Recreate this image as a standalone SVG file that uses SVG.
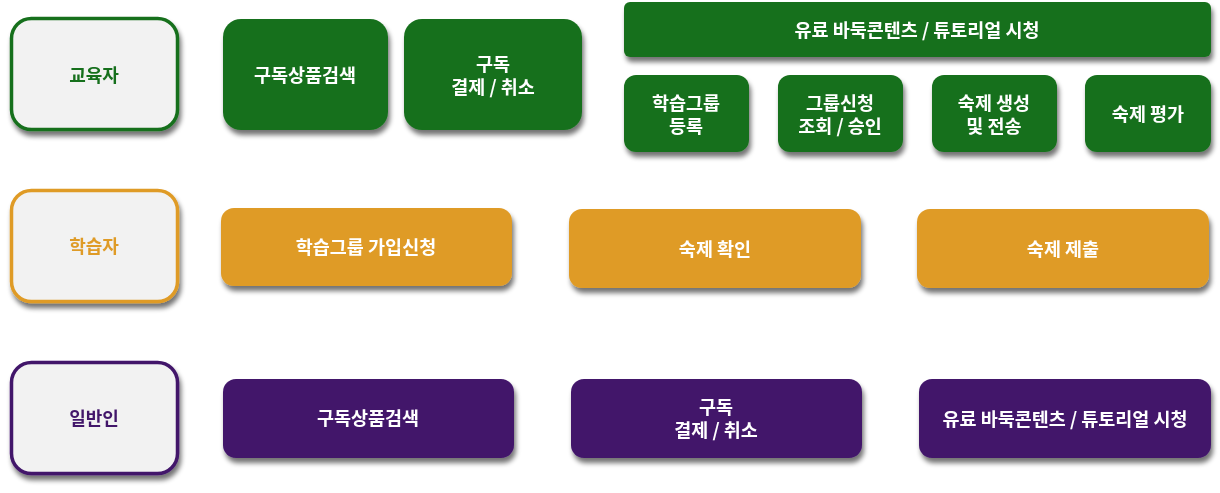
<svg xmlns="http://www.w3.org/2000/svg" width="1220" height="493" viewBox="0 0 1220 493">
<defs>
<filter id="sh" x="-10%" y="-20%" width="125%" height="150%">
<feGaussianBlur in="SourceAlpha" stdDeviation="2.5"/>
<feOffset dx="2" dy="5" result="b"/>
<feComponentTransfer><feFuncA type="linear" slope="0.55"/></feComponentTransfer>
<feMerge><feMergeNode/><feMergeNode in="SourceGraphic"/></feMerge>
</filter>
</defs>
<style>
text{font-family:"Noto Sans CJK KR","Noto Sans",sans-serif;font-weight:bold;text-anchor:middle;dominant-baseline:central}
.w{fill:#ffffff;font-size:18.5px}
.r{font-size:18px}
.role{fill:#f2f2f2;stroke-width:3.5}
.g{fill:#18701f}
.o{fill:#df9b27}
.p{fill:#42166b}
</style>
<g id="role-educator" filter="url(#sh)">
<rect class="role" x="11.5" y="18.5" width="166" height="111" rx="20" stroke="#18701f"/>
<text class="r" x="94" y="74" fill="#18701f">교육자</text>
</g>
<g id="edu-search" filter="url(#sh)">
<rect class="g" x="223" y="19" width="165" height="111" rx="18"/>
<text class="w" x="305" y="74">구독상품검색</text>
</g>
<g id="edu-pay" filter="url(#sh)">
<rect class="g" x="404" y="19" width="178" height="111" rx="18"/>
<text class="w" x="493" y="63">구독<tspan x="493" dy="23">결제 / 취소</tspan></text>
</g>
<g id="edu-content" filter="url(#sh)">
<rect class="g" x="624" y="2" width="587" height="55" rx="6"/>
<text class="w" x="917" y="29">유료 바둑콘텐츠 / 튜토리얼 시청</text>
</g>
<g id="edu-group" filter="url(#sh)">
<rect class="g" x="624" y="75" width="125" height="77" rx="12"/>
<text class="w" x="686" y="102">학습그룹<tspan x="686" dy="23">등록</tspan></text>
</g>
<g id="edu-approve" filter="url(#sh)">
<rect class="g" x="778" y="75" width="125" height="77" rx="12"/>
<text class="w" x="840" y="102">그룹신청<tspan x="840" dy="23">조회 / 승인</tspan></text>
</g>
<g id="edu-hw" filter="url(#sh)">
<rect class="g" x="932" y="75" width="125" height="77" rx="12"/>
<text class="w" x="994" y="102">숙제 생성<tspan x="994" dy="23">및 전송</tspan></text>
</g>
<g id="edu-eval" filter="url(#sh)">
<rect class="g" x="1085" y="75" width="126" height="77" rx="12"/>
<text class="w" x="1148" y="113">숙제 평가</text>
</g>
<g id="role-learner" filter="url(#sh)">
<rect class="role" x="11.5" y="190.5" width="166" height="111" rx="20" stroke="#df9b27"/>
<text class="r" x="94" y="245" fill="#df9b27">학습자</text>
</g>
<g id="learn-join" filter="url(#sh)">
<rect class="o" x="221" y="208" width="291" height="78" rx="13"/>
<text class="w" x="366" y="246">학습그룹 가입신청</text>
</g>
<g id="learn-check" filter="url(#sh)">
<rect class="o" x="569" y="209" width="292" height="79" rx="13"/>
<text class="w" x="715" y="248">숙제 확인</text>
</g>
<g id="learn-submit" filter="url(#sh)">
<rect class="o" x="917" y="209" width="292" height="79" rx="13"/>
<text class="w" x="1063" y="248">숙제 제출</text>
</g>
<g id="role-general" filter="url(#sh)">
<rect class="role" x="11.5" y="362.5" width="166" height="111" rx="20" stroke="#42166b"/>
<text class="r" x="94" y="417" fill="#42166b">일반인</text>
</g>
<g id="gen-search" filter="url(#sh)">
<rect class="p" x="223" y="379" width="291" height="79" rx="13"/>
<text class="w" x="368" y="417">구독상품검색</text>
</g>
<g id="gen-pay" filter="url(#sh)">
<rect class="p" x="571" y="379" width="291" height="79" rx="13"/>
<text class="w" x="716" y="406">구독<tspan x="716" dy="23">결제 / 취소</tspan></text>
</g>
<g id="gen-content" filter="url(#sh)">
<rect class="p" x="919" y="379" width="292" height="79" rx="13"/>
<text class="w" x="1065" y="418">유료 바둑콘텐츠 / 튜토리얼 시청</text>
</g>
<g id="connectors"></g>
</svg>
